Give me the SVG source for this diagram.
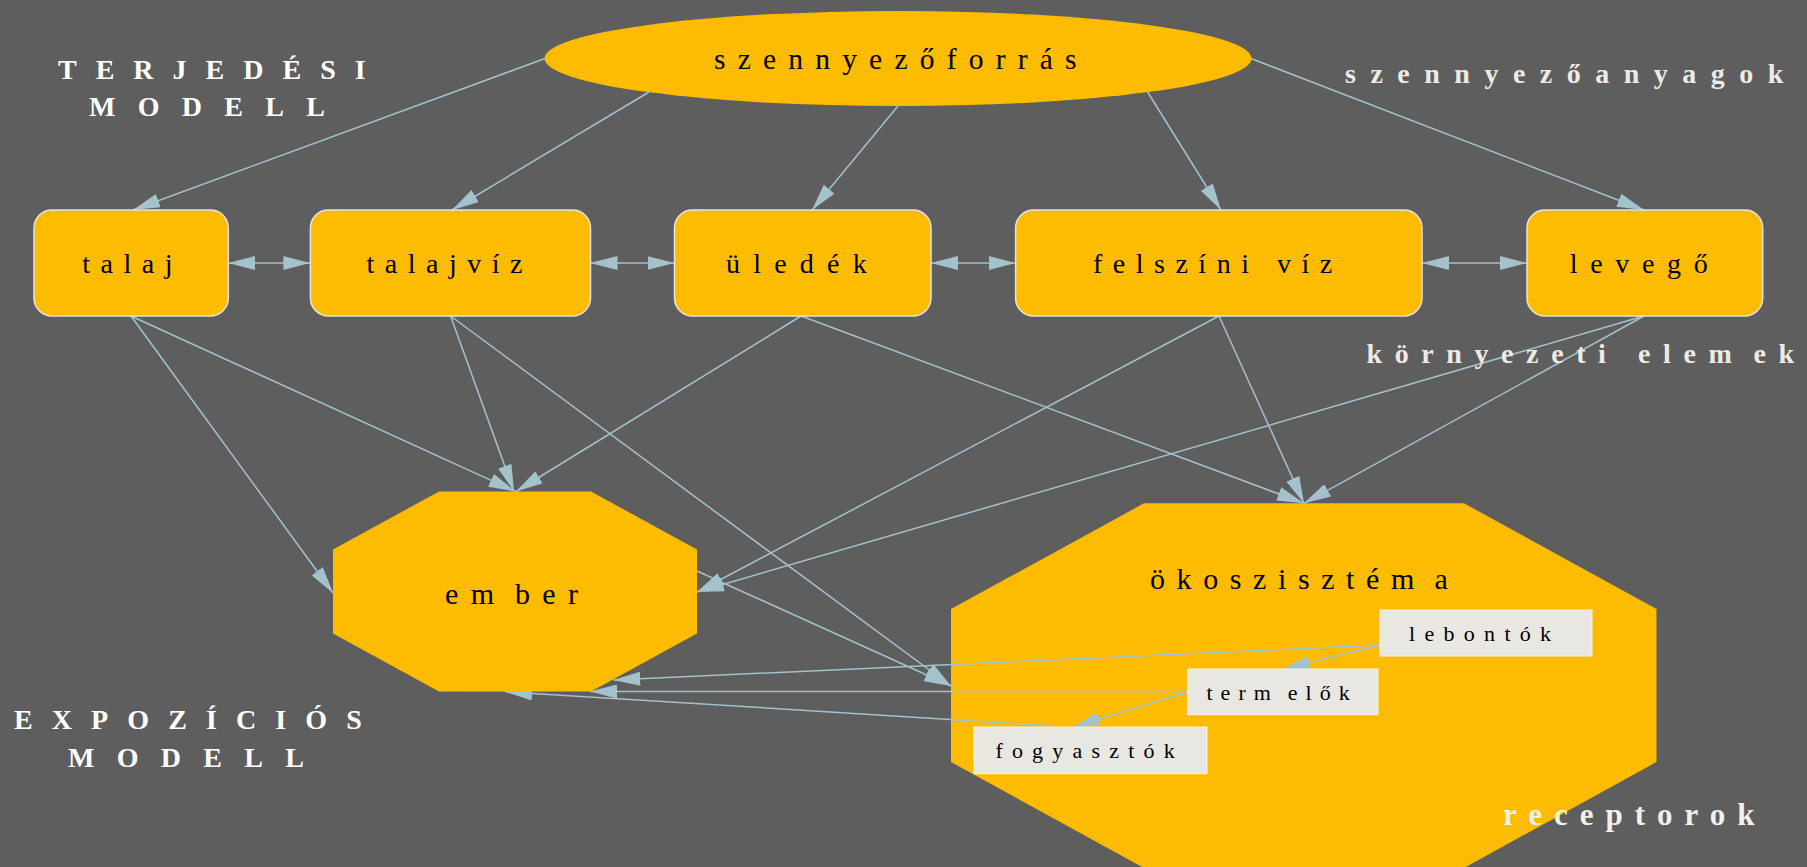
<svg xmlns="http://www.w3.org/2000/svg" width="1807" height="867" viewBox="0 0 1807 867">
<style>
.bg{fill:#5e5e5e}
.node{fill:#fdbb02}
.box{stroke:#e4e4e4;stroke-width:1.5}
.inner{fill:#e9e7e2;stroke:#f5f3ed;stroke-width:1}
.edge{stroke:#a4c2cc;stroke-width:1.5;fill:none}
.t{font-family:"Liberation Serif","Times New Roman",serif;fill:#000}
.lbl{font-size:28px}
.big{font-size:30px}
.small{font-size:22px}
.title{font-family:"Liberation Serif","Times New Roman",serif;font-weight:bold;font-size:28px;fill:#ffffff}
.sub{font-family:"Liberation Serif","Times New Roman",serif;font-weight:bold;font-size:28px;fill:#eeebe5}
</style>
<defs>
<marker id="ah" markerUnits="userSpaceOnUse" markerWidth="27" markerHeight="14" viewBox="0 0 27 14" refX="27" refY="7" orient="auto-start-reverse">
<path d="M0,0 L27,7 L0,14 z" fill="#a4c2cc"/>
</marker>
</defs>
<rect class="bg" x="0" y="0" width="1807" height="867"/>

<g id="okoszisztema">
<polygon class="node" points="1144,503.3 1464,503.3 1656.5,609 1656.5,762 1464,868 1144,868 951,762 951,609"/>
<text class="t big" x="1150" y="589" letter-spacing="11.6">ökoszisztém<tspan dx="8.5">a</tspan></text>
</g>

<g id="connectors" class="edge" marker-end="url(#ah)">
<path d="M545,58.5 L133,210"/>
<path d="M649,92 L452,210"/>
<path d="M898,106 L812,210"/>
<path d="M1147,91 L1221,210"/>
<path d="M1251,58.5 L1644,210"/>
<path d="M228.3,263 L310.4,263" marker-start="url(#ah)"/>
<path d="M590.5,263 L674.5,263" marker-start="url(#ah)"/>
<path d="M931,263 L1015.6,263" marker-start="url(#ah)"/>
<path d="M1422,263 L1527,263" marker-start="url(#ah)"/>
<path d="M131,316 L333,593"/>
<path d="M131,316 L515.5,491.5"/>
<path d="M450.6,316 L514,491.5"/>
<path d="M450.6,316 L951,686"/>
<path d="M801,316 L516,491.5"/>
<path d="M801,316 L1304,503.3"/>
<path d="M1219,316 L697,592"/>
<path d="M1219,316 L1304,503.3"/>
<path d="M1644,316 L697,592"/>
<path d="M1644,316 L1304,503.3"/>
<path d="M697,571 L951,686"/>
<path d="M1380,645 L613.3,680"/>
<path d="M1380,645 L1283,669"/>
<path d="M1187.5,691.5 L590,691.5"/>
<path d="M1187.5,692 L1073,727"/>
<path d="M1056,726 L505,691.7"/>
</g>

<g id="szennyezoforras">
<ellipse class="node" cx="898" cy="58.5" rx="353.5" ry="47.5"/>
<text class="t" x="714" y="68.5" font-size="29.5" letter-spacing="12.2">szennyezőforrás</text>
</g>

<g id="talaj">
<rect class="node box" x="34" y="210" width="194.3" height="106" rx="18"/>
<text class="t lbl" x="82.3" y="273.3" letter-spacing="10.5">talaj</text>
</g>

<g id="talajviz">
<rect class="node box" x="310.4" y="210" width="280.1" height="106" rx="18"/>
<text class="t lbl" x="366.6" y="273.3" letter-spacing="10.5">talajvíz</text>
</g>

<g id="uledek">
<rect class="node box" x="674.5" y="210" width="256.5" height="106" rx="18"/>
<text class="t lbl" x="726" y="273.3" letter-spacing="13.2">üledék</text>
</g>

<g id="felszini-viz">
<rect class="node box" x="1015.6" y="210" width="406.4" height="106" rx="18"/>
<text class="t lbl" x="1093" y="273.3" letter-spacing="10.5">felszíni víz</text>
</g>

<g id="levego">
<rect class="node box" x="1527" y="210" width="235.7" height="106" rx="18"/>
<text class="t lbl" x="1569.7" y="273.3" letter-spacing="12.7">levegő</text>
</g>

<g id="ember">
<polygon class="node" points="439,491.5 591,491.5 697,549.5 697,633.5 591,691.5 439,691.5 333,633.5 333,549.5"/>
<text class="t big" x="445" y="604" letter-spacing="12.4">em<tspan dx="8.5">ber</tspan></text>
</g>

<g id="lebontok">
<rect class="inner" x="1380" y="610" width="212" height="46"/>
<text class="t small" x="1409" y="640.7" letter-spacing="9.3">lebontók</text>
</g>

<g id="termelok">
<rect class="inner" x="1187.5" y="669" width="190.5" height="45.7"/>
<text class="t small" x="1206.5" y="700" letter-spacing="8">term<tspan dx="9">elők</tspan></text>
</g>

<g id="fogyasztok">
<rect class="inner" x="974" y="727" width="233" height="46.7"/>
<text class="t small" x="995.4" y="758" letter-spacing="9.2">fogyasztók</text>
</g>

<g id="labels">
<text class="title" x="58" y="79.3" letter-spacing="19">TERJEDÉSI</text>
<text class="title" x="89" y="116" letter-spacing="22.3">MODELL</text>
<text class="title" x="14" y="729.3" letter-spacing="19.1">EXPOZÍCIÓS</text>
<text class="title" x="68" y="766.5" letter-spacing="22.3">MODELL</text>
<text class="sub" x="1345" y="83.3" letter-spacing="14.5">szennyezőanyagok</text>
<text class="sub" x="1366.5" y="363" letter-spacing="12.6">környezeti elem<tspan dx="9">ek</tspan></text>
<text x="1503" y="825" font-family="Liberation Serif, Times New Roman, serif" font-weight="bold" font-size="31" letter-spacing="12" fill="#f2f0ea">receptorok</text>
</g>
</svg>
